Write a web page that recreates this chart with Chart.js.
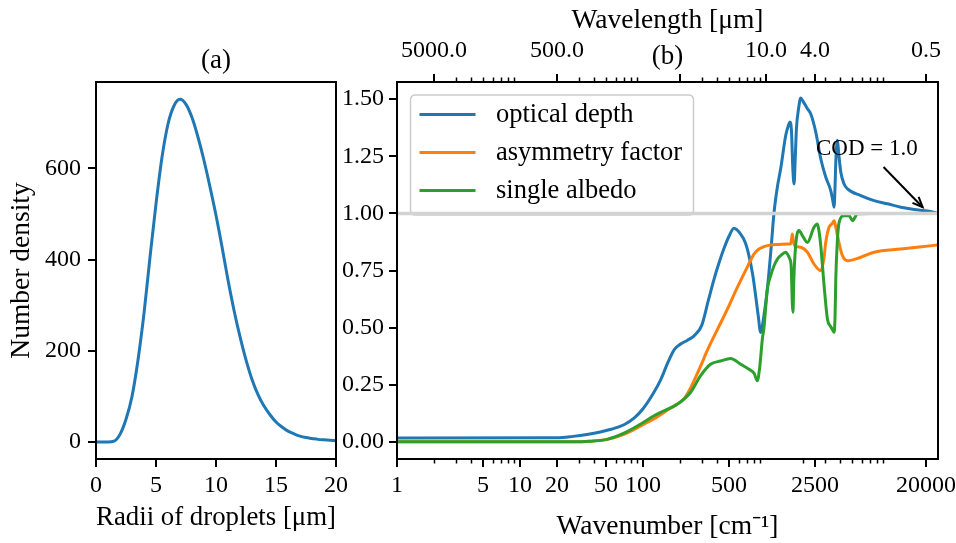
<!DOCTYPE html>
<html><head><meta charset="utf-8">
<script src="https://cdn.jsdelivr.net/npm/chart.js@4.4.1/dist/chart.umd.min.js"></script>
<style>
html,body{margin:0;padding:0;background:#fff;}
#wrap{position:relative;width:956px;height:543px;overflow:hidden;background:#fff;}
canvas{position:absolute;top:0;}
#ca{left:0;}
#cb{left:330px;}
</style></head><body>
<div id="wrap"><canvas id="ca" width="352" height="543"></canvas><canvas id="cb" width="626" height="543"></canvas></div>
<script>
// ---------- Panel (a): droplet size distribution ----------
const RADII = [0,0.5,1,1.5,2,2.5,3,3.5,4,4.5,5,5.5,6,6.5,7,7.5,8,8.5,9,9.5,10,10.5,11,11.5,12,12.5,13,13.5,14,14.5,15,15.5,16,16.5,17,17.5,18,18.5,19,19.5,20];
const NUMBER_DENSITY = [0,0,0,2,17,50,100,180,282,405,522,624,697,737,751,740,711,668,617,559,497,428,355,289,231,180,137,104,79,60,44,33,24,18,13,10,8,6,5,4,3];
const X_TICKS_A = [0,5,10,15,20];
const Y_TICKS_A = [0,200,400,600];

// ---------- Panel (b): optical properties vs wavenumber ----------
const SERIES_NAMES = ['optical depth','asymmetry factor','single albedo'];
const WN_OD = [1,20,27,35,45,55,70,85,100,122,140,160,180,202,230,260,300,340,377,410,454,500,548,620,680,726,780,823,865,904,960,1025,1100,1162,1240,1315,1445,1520,1567,1610,1650,1690,1730,1766,1840,1914,2000,2170,2307,2536,2785,3057,3358,3480,3574,3640,3690,3806,3900,4054,4300,4594,5892,7565,9717,12480,16030,20560,25000];
const OPTICAL_DEPTH = [0.017,0.018,0.024,0.032,0.043,0.055,0.075,0.105,0.145,0.215,0.275,0.35,0.405,0.428,0.445,0.464,0.51,0.62,0.71,0.775,0.845,0.9,0.935,0.91,0.87,0.815,0.73,0.64,0.55,0.479,0.55,0.669,0.85,1.005,1.12,1.195,1.341,1.385,1.40,1.36,1.2,1.129,1.25,1.37,1.46,1.505,1.49,1.458,1.436,1.356,1.239,1.159,1.10,1.06,1.027,1.12,1.225,1.32,1.26,1.18,1.13,1.107,1.078,1.056,1.042,1.027,1.017,1.01,1.0];
const WN_G = [1,30,37,51,70,95,122,147,178,214,243,293,333,401,484,583,704,798,876,950,1025,1250,1492,1585,1615,1637,1665,1710,1914,2170,2455,2785,2950,3057,3252,3450,3574,3690,3806,4000,4178,4594,5892,7565,12480,23300,25000];
const ASYMMETRY = [0,0,0.003,0.011,0.033,0.069,0.10,0.128,0.157,0.186,0.235,0.33,0.40,0.49,0.58,0.675,0.765,0.822,0.844,0.853,0.859,0.864,0.866,0.866,0.89,0.91,0.88,0.859,0.852,0.83,0.778,0.749,0.80,0.873,0.939,0.955,0.968,0.94,0.903,0.85,0.815,0.793,0.808,0.83,0.844,0.86,0.862];
const WN_W = [1,27,37,51,70,95,122,147,189,243,293,354,427,515,621,726,800,849,890,933,962,1025,1090,1162,1237,1315,1445,1492,1560,1600,1637,1656,1680,1741,1853,1975,2170,2455,2617,2700,2785,2966,3157,3350,3480,3574,3640,3690,3800,3928,4315,4732,5044,5540,7000,25000];
const ALBEDO = [0,0,0.003,0.011,0.038,0.077,0.113,0.135,0.164,0.216,0.289,0.34,0.354,0.365,0.34,0.318,0.30,0.267,0.33,0.45,0.50,0.669,0.727,0.771,0.80,0.815,0.83,0.822,0.80,0.771,0.60,0.567,0.70,0.859,0.925,0.903,0.873,0.939,0.954,0.92,0.859,0.683,0.537,0.505,0.49,0.48,0.55,0.713,0.88,0.961,0.99,0.99,0.968,0.998,1.0,1.0];
const X_MIN = 1, X_MAX = 25000;
const COD_LEVEL = 1.0;
const X_TICKS_B = [1,5,10,20,50,100,500,2500,20000];
const Y_TICKS_B = [0,0.25,0.5,0.75,1.0,1.25,1.5];
const WL_TICK_WN = [2,20,200,1000,2500,20000];           // wavenumbers of wavelength ticks
const WL_LABELS = ['5000.0','500.0','','10.0','4.0','0.5']; // wavelength labels [um]
const ANNOT_TEXT = 'COD = 1.0';
const ANNOT_TEXT_AT = [6600, 1.283];
const ANNOT_TAIL = [9020, 1.203];
const ANNOT_HEAD = [18750, 1.027];

const BLUE = '#1f77b4', ORANGE = '#ff7f0e', GREEN = '#2ca02c', GRAY = '#d3d3d3';
const SERIF = "'Liberation Serif','Times New Roman',serif";
Chart.defaults.color = '#000';
Chart.defaults.font.family = SERIF;

const pts = (xs, ys) => xs.map((x, i) => ({x: x, y: ys[i]}));
const fitW = w => s => { s.width = w; s.paddingTop = 0; s.paddingBottom = 0; s.paddingLeft = 0; s.paddingRight = 0; };
const fitH = h => s => { s.height = h; s.paddingTop = 0; s.paddingBottom = 0; s.paddingLeft = 0; s.paddingRight = 0; };
const setTicks = arr => s => { s.ticks = arr.map(v => ({value: v})); };
const gridOpts = {display: true, drawOnChartArea: false, drawTicks: true, tickLength: 8, color: '#000', lineWidth: 2};
const TICK_FONT = {size: 24, family: SERIF};
const LABEL_FONT = {size: 27.5, family: SERIF};

const framePlugin = {
  id: 'frame',
  afterDraw(chart) {
    const {ctx, chartArea: a} = chart;
    ctx.save(); ctx.strokeStyle = '#000'; ctx.lineWidth = 2;
    ctx.strokeRect(a.left, a.top, a.right - a.left, a.bottom - a.top);
    ctx.restore();
  }
};

// minor log ticks (tick positions, not data)
const MINOR_VALUES = [];
for (let k = 0; k <= 4; k++) for (let m = 2; m <= 9; m++) { const v = m * Math.pow(10, k); if (v <= X_MAX) MINOR_VALUES.push(v); }

const minorTicksPlugin = {
  id: 'minorTicks',
  afterDraw(chart) {
    const {ctx, chartArea: a} = chart;
    const xb = chart.scales.x, xt = chart.scales.x2;
    ctx.save(); ctx.strokeStyle = '#000'; ctx.lineWidth = 1.5;
    for (const v of MINOR_VALUES) {
      if (!X_TICKS_B.includes(v)) {
        const px = Math.round(xb.getPixelForValue(v)) + 0.5;
        ctx.beginPath(); ctx.moveTo(px, a.bottom); ctx.lineTo(px, a.bottom + 4.5); ctx.stroke();
      }
      if (!WL_TICK_WN.includes(v)) {
        const px = Math.round(xt.getPixelForValue(v)) + 0.5;
        ctx.beginPath(); ctx.moveTo(px, a.top); ctx.lineTo(px, a.top - 4.5); ctx.stroke();
      }
    }
    ctx.restore();
  }
};

const legendBoxPlugin = {
  id: 'legendBox',
  beforeDatasetsDraw(chart) {
    const {ctx, chartArea: a} = chart;
    const x0 = a.left + 13.5, y0 = a.top + 13, w = 283, h = 120, r = 5;
    ctx.save();
    ctx.beginPath();
    ctx.moveTo(x0 + r, y0); ctx.lineTo(x0 + w - r, y0); ctx.quadraticCurveTo(x0 + w, y0, x0 + w, y0 + r);
    ctx.lineTo(x0 + w, y0 + h - r); ctx.quadraticCurveTo(x0 + w, y0 + h, x0 + w - r, y0 + h);
    ctx.lineTo(x0 + r, y0 + h); ctx.quadraticCurveTo(x0, y0 + h, x0, y0 + h - r);
    ctx.lineTo(x0, y0 + r); ctx.quadraticCurveTo(x0, y0, x0 + r, y0); ctx.closePath();
    ctx.fillStyle = 'rgba(255,255,255,0.8)'; ctx.fill();
    ctx.strokeStyle = '#cccccc'; ctx.lineWidth = 1.5; ctx.stroke();
    SERIES_NAMES.forEach((name, i) => {
      const ds = chart.data.datasets.find(d => d.label === name);
      const cy = y0 + 19.5 + 38 * i;
      ctx.strokeStyle = ds.borderColor; ctx.lineWidth = ds.borderWidth;
      ctx.beginPath(); ctx.moveTo(x0 + 9, cy); ctx.lineTo(x0 + 65, cy); ctx.stroke();
      ctx.fillStyle = '#000'; ctx.font = `26.5px ${SERIF}`; ctx.textAlign = 'left'; ctx.textBaseline = 'middle';
      ctx.fillText(name, x0 + 85.5, cy + 1);
    });
    ctx.restore();
  }
};

const annotationPlugin = {
  id: 'codAnnotation',
  afterDatasetsDraw(chart) {
    const {ctx} = chart; const xs = chart.scales.x, ys = chart.scales.y;
    ctx.save();
    ctx.font = `23px ${SERIF}`; ctx.fillStyle = '#000'; ctx.textAlign = 'center'; ctx.textBaseline = 'middle';
    ctx.fillText(ANNOT_TEXT, xs.getPixelForValue(ANNOT_TEXT_AT[0]), ys.getPixelForValue(ANNOT_TEXT_AT[1]));
    const x1 = xs.getPixelForValue(ANNOT_TAIL[0]), y1 = ys.getPixelForValue(ANNOT_TAIL[1]);
    const x2 = xs.getPixelForValue(ANNOT_HEAD[0]), y2 = ys.getPixelForValue(ANNOT_HEAD[1]);
    ctx.strokeStyle = '#000'; ctx.lineWidth = 2;
    ctx.beginPath(); ctx.moveTo(x1, y1); ctx.lineTo(x2, y2); ctx.stroke();
    const ang = Math.atan2(y2 - y1, x2 - x1), L = 11, sp = 0.4;
    ctx.beginPath();
    ctx.moveTo(x2 - L * Math.cos(ang - sp), y2 - L * Math.sin(ang - sp));
    ctx.lineTo(x2, y2);
    ctx.lineTo(x2 - L * Math.cos(ang + sp), y2 - L * Math.sin(ang + sp));
    ctx.stroke();
    ctx.restore();
  }
};

// ---------- Chart (a) ----------
new Chart(document.getElementById('ca'), {
  type: 'line',
  data: {datasets: [{label: 'Number density', data: pts(RADII, NUMBER_DENSITY), borderColor: BLUE, borderWidth: 3,
    pointRadius: 0, cubicInterpolationMode: 'monotone', fill: false}]},
  options: {
    responsive: false, animation: false, devicePixelRatio: 1,
    layout: {padding: {left: 0, right: 16, top: 0, bottom: 0}},
    plugins: {
      legend: {display: false}, tooltip: {enabled: false},
      title: {display: true, text: '(a)', fullSize: false, color: '#000', font: {size: 27, family: SERIF, weight: 'normal'},
        padding: {top: 44.8, bottom: 4.8}}
    },
    scales: {
      x: {type: 'linear', min: 0, max: 20, afterBuildTicks: setTicks(X_TICKS_A), afterFit: fitH(84),
        ticks: {font: TICK_FONT, padding: 4, maxRotation: 0, autoSkip: false, callback: v => String(v)},
        grid: gridOpts, border: {display: false},
        title: {display: true, text: 'Radii of droplets [μm]', font: LABEL_FONT, padding: {top: 0, bottom: 8.5}}},
      y: {type: 'linear', min: -37, max: 789, afterBuildTicks: setTicks(Y_TICKS_A), afterFit: fitW(96),
        ticks: {font: TICK_FONT, padding: 7, autoSkip: false, callback: v => String(v)},
        grid: gridOpts, border: {display: false},
        title: {display: true, text: 'Number density', font: LABEL_FONT, padding: {top: 5, bottom: 0}}}
    }
  },
  plugins: [framePlugin]
});

// ---------- Chart (b) ----------
new Chart(document.getElementById('cb'), {
  type: 'line',
  data: {datasets: [
    {label: SERIES_NAMES[0], data: pts(WN_OD, OPTICAL_DEPTH), borderColor: BLUE, borderWidth: 3, order: 3},
    {label: SERIES_NAMES[1], data: pts(WN_G, ASYMMETRY), borderColor: ORANGE, borderWidth: 3, order: 2},
    {label: SERIES_NAMES[2], data: pts(WN_W, ALBEDO), borderColor: GREEN, borderWidth: 3, order: 1},
    {label: 'COD = 1.0 level', data: [{x: X_MIN, y: COD_LEVEL}, {x: X_MAX, y: COD_LEVEL}], borderColor: GRAY, borderWidth: 3.5, order: 0, cubicInterpolationMode: 'default', tension: 0}
  ].map(d => Object.assign({xAxisID: 'x', yAxisID: 'y', pointRadius: 0, fill: false, cubicInterpolationMode: 'monotone'}, d))},
  options: {
    responsive: false, animation: false, devicePixelRatio: 1,
    layout: {padding: {left: 0, right: 18, top: 0, bottom: 0}},
    plugins: {
      legend: {display: false}, tooltip: {enabled: false},
      title: {display: true, text: '(b)', fullSize: false, color: '#000', font: {size: 27, family: SERIF, weight: 'normal'},
        padding: {top: 40.8, bottom: -73.2}}
    },
    scales: {
      x: {type: 'logarithmic', axis: 'x', position: 'bottom', min: X_MIN, max: X_MAX,
        afterBuildTicks: setTicks(X_TICKS_B), afterFit: fitH(84),
        ticks: {font: TICK_FONT, padding: 4, maxRotation: 0, autoSkip: false, callback: v => String(v)},
        grid: gridOpts, border: {display: false},
        title: {display: true, text: 'Wavenumber [cm⁻¹]', font: LABEL_FONT, padding: {top: 0, bottom: 0}}},
      x2: {type: 'logarithmic', axis: 'x', position: 'top', min: X_MIN, max: X_MAX,
        afterBuildTicks: setTicks(WL_TICK_WN), afterFit: fitH(82),
        ticks: {font: TICK_FONT, padding: 9, maxRotation: 0, autoSkip: false, callback: (v, i) => WL_LABELS[i]},
        grid: gridOpts, border: {display: false},
        title: {display: true, text: 'Wavelength [μm]', font: LABEL_FONT, padding: {top: 4.5, bottom: 0}}},
      y: {type: 'linear', position: 'left', min: -0.075, max: 1.575, afterBuildTicks: setTicks(Y_TICKS_B), afterFit: fitW(67),
        ticks: {font: TICK_FONT, padding: 5, autoSkip: false, callback: v => v.toFixed(2)},
        grid: gridOpts, border: {display: false}}
    }
  },
  plugins: [legendBoxPlugin, annotationPlugin, framePlugin, minorTicksPlugin]
});
</script>
</body></html>
